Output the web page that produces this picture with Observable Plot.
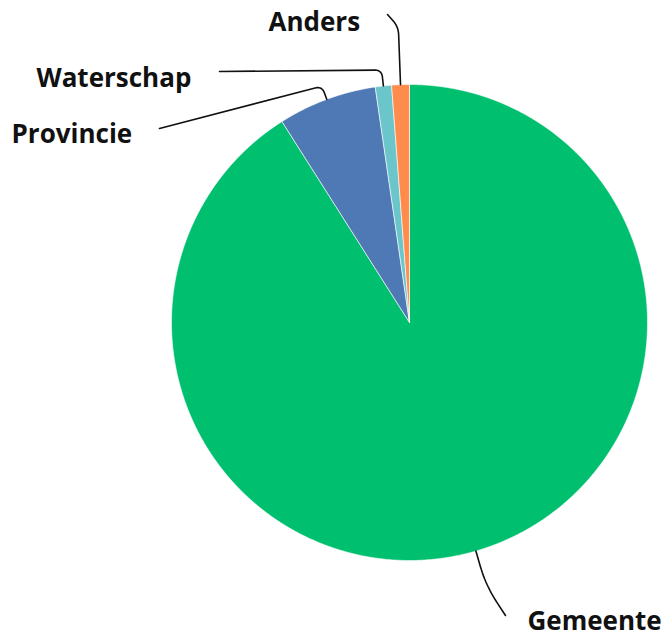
<!DOCTYPE html>
<html><head><meta charset="utf-8">
<script src="https://cdn.jsdelivr.net/npm/d3@7"></script>
<script src="https://cdn.jsdelivr.net/npm/@observablehq/plot@0.6"></script>
<style>body{margin:0;background:#fff}</style>
</head><body><div id="chart"></div>
<script>
// Data
const categories = ["Gemeente", "Provincie", "Waterschap", "Anders"];
const values = [91.0, 6.7, 1.1, 1.2];
const colors = ["#00BF6F", "#4E79B5", "#6BC6CC", "#FF8C4C"];

// Layout (pixels)
const W = 669, H = 639;
const pie = {cx: 409, cy: 322, r: 238};
const labelLayout = {
  Gemeente:   {x: 527, y: 621, ext: 36, end: [505, 615], round: 20},
  Provincie:  {x: 11,  y: 134, ext: 14, end: [159, 128], round: 7},
  Waterschap: {x: 36,  y: 78,  ext: 16, end: [219, 71],  round: 7},
  Anders:     {x: 268, y: 22,  ext: 58, end: [387, 14],  round: 8}
};

const rows = categories.map((c, i) => ({category: c, value: values[i]}));
const arcs = d3.pie().sort(null).value(d => d.value)(rows);
const pt = (a, rad) => [pie.cx + rad * Math.sin(a), pie.cy - rad * Math.cos(a)];

// slice polygons
const slicePts = [];
for (const a of arcs) {
  const c = a.data.category;
  slicePts.push({category: c, x: pie.cx, y: pie.cy});
  const n = Math.max(4, Math.ceil((a.endAngle - a.startAngle) / 0.005));
  for (let k = 0; k <= n; k++) {
    const ang = a.startAngle + (a.endAngle - a.startAngle) * k / n;
    const [x, y] = pt(ang, pie.r);
    slicePts.push({category: c, x, y});
  }
  slicePts.push({category: c, x: pie.cx, y: pie.cy});
}

// leader lines
const leaderPts = [];
for (const a of arcs) {
  const c = a.data.category, L = labelLayout[c];
  const mid = (a.startAngle + a.endAngle) / 2;
  const A = pt(mid, pie.r), C = pt(mid, pie.r + L.ext), E = L.end;
  const d1 = Math.hypot(C[0] - A[0], C[1] - A[1]), d2 = Math.hypot(E[0] - C[0], E[1] - C[1]);
  const rr = Math.min(L.round, d1 * 0.9, d2 * 0.9);
  const B1 = [C[0] + (A[0] - C[0]) * rr / d1, C[1] + (A[1] - C[1]) * rr / d1];
  const B2 = [C[0] + (E[0] - C[0]) * rr / d2, C[1] + (E[1] - C[1]) * rr / d2];
  const seq = [A, B1];
  for (let k = 1; k < 12; k++) {
    const t = k / 12, u = 1 - t;
    seq.push([u*u*B1[0] + 2*u*t*C[0] + t*t*B2[0], u*u*B1[1] + 2*u*t*C[1] + t*t*B2[1]]);
  }
  seq.push(B2, E);
  for (const [x, y] of seq) leaderPts.push({category: c, x, y});
}

const labels = categories.map(c => ({category: c, x: labelLayout[c].x, y: labelLayout[c].y}));

const chart = Plot.plot({
  width: W, height: H, margin: 0,
  x: {domain: [0, W], range: [0, W], axis: null},
  y: {domain: [0, H], range: [0, H], axis: null},
  color: {domain: categories, range: colors},
  style: {background: "#fff"},
  marks: [
    Plot.line(slicePts, {x: "x", y: "y", z: "category", fill: "category", stroke: "#fff", strokeWidth: 0.6, curve: "linear"}),
    Plot.line(leaderPts, {x: "x", y: "y", z: "category", stroke: "#111", strokeWidth: 1.6, curve: "linear"}),
    Plot.text(labels, {x: "x", y: "y", text: "category", textAnchor: "start", lineAnchor: "middle",
      fontSize: 26, fontWeight: 700, fontFamily: "Open Sans", fill: "#111"})
  ]
});
document.getElementById("chart").append(chart);
</script>
</body></html>
